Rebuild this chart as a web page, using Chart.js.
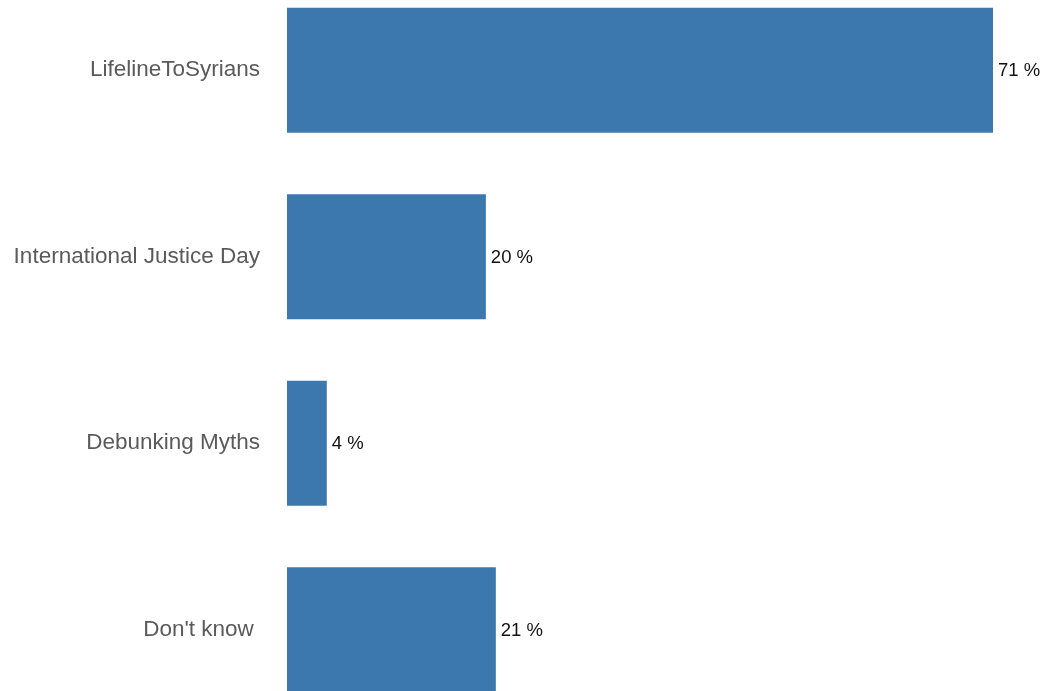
<!DOCTYPE html>
<html>
<head>
<meta charset="utf-8">
<script src="https://cdn.jsdelivr.net/npm/chart.js@4"></script>
<style>
  html, body { margin: 0; padding: 0; background: #fff; overflow: hidden; }
  #wrap { position: absolute; left: 0; top: -23px; width: 1046px; height: 746px; }
</style>
</head>
<body>
<div id="wrap"><canvas id="chart"></canvas></div>
<script>
const categories = ['LifelineToSyrians', 'International Justice Day', 'Debunking Myths', "Don't know "];
const shares = [71, 20, 4, 21];

// writes "NN %" just past the end of each bar
const valueLabels = {
    id: 'valueLabels',
    afterDatasetsDraw(chart) {
        const ctx = chart.ctx;
        ctx.save();
        ctx.font = '18.5px "Liberation Sans", Arial, sans-serif';
        ctx.fillStyle = '#111';
        ctx.textAlign = 'left';
        ctx.textBaseline = 'middle';
        chart.getDatasetMeta(0).data.forEach(function(bar, i) {
            ctx.fillText(shares[i] + ' %', bar.x + 5, bar.y + 1);
        });
        ctx.restore();
    }
};

new Chart(document.getElementById('chart').getContext('2d'), {
    type: 'bar',
    data: {
        labels: categories,
        datasets: [
            {
                data: shares,
                backgroundColor: '#3c78ae',
                borderWidth: 0,
                barPercentage: 0.67,
                categoryPercentage: 1
            }
        ]
    },
    options: {
        indexAxis: 'y',
        responsive: true,
        maintainAspectRatio: false,
        animation: false,
        layout: { padding: { left: 0, right: 53, top: 0, bottom: 0 } },
        plugins: {
            legend: { display: false },
            tooltip: { enabled: false }
        },
        scales: {
            x: {
                display: false,
                min: 0,
                max: 71
            },
            y: {
                grid: { display: false, drawTicks: false },
                border: { display: false },
                ticks: {
                    color: '#5a5a5a',
                    padding: 27,
                    font: { family: '"Liberation Sans", Arial, sans-serif', size: 22.5 }
                },
                afterFit: function(scale) {
                    scale.width = 287;
                    scale.paddingTop = 0;
                    scale.paddingBottom = 0;
                }
            }
        }
    },
    plugins: [valueLabels]
});
</script>
</body>
</html>
